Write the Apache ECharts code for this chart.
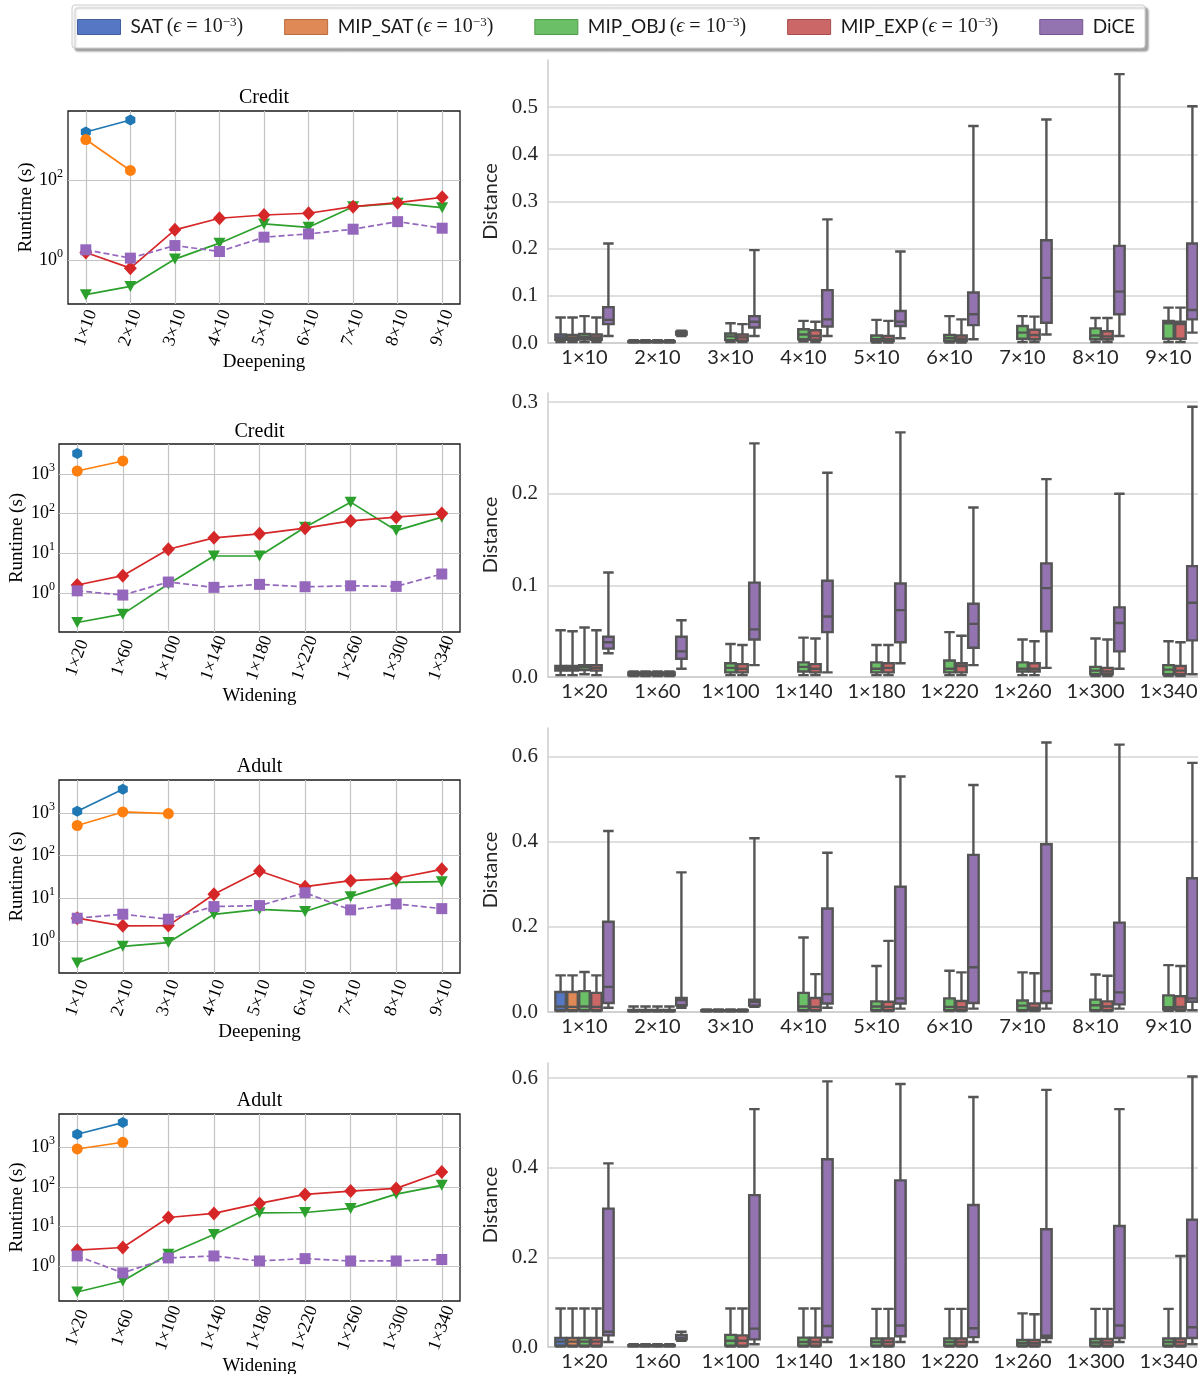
<!DOCTYPE html>
<html>
<head>
<meta charset="utf-8">
<script src="https://cdn.jsdelivr.net/npm/echarts@6/dist/echarts.min.js"></script>
<style>
  html, body { margin: 0; padding: 0; background: #fff; }
  #chart { width: 1198px; height: 1374px; }
</style>
</head>
<body>
<div id="chart"></div>
<script>
// ---- categories ----
const deepLabels = ['1×10', '2×10', '3×10', '4×10', '5×10', '6×10', '7×10', '8×10', '9×10'];
const wideLabels = ['1×20', '1×60', '1×100', '1×140', '1×180', '1×220', '1×260', '1×300', '1×340'];
const methods = ['SAT', 'MIP_SAT', 'MIP_OBJ', 'MIP_EXP', 'DiCE'];

// ---- runtime (s), left column ----
const rtCreditDeepSAT = [1590, 3170, null, null, null, null, null, null, null];
const rtCreditDeepMIPSAT = [1030, 174, null, null, null, null, null, null, null];
const rtCreditDeepMIPOBJ = [0.137, 0.22, 1.06, 2.65, 8.0, 6.6, 21.6, 26.3, 20.4];
const rtCreditDeepMIPEXP = [1.55, 0.63, 5.7, 11.1, 13.4, 14.8, 21.6, 27.2, 37.1];
const rtCreditDeepDiCE = [1.81, 1.12, 2.31, 1.64, 3.74, 4.52, 5.92, 9.14, 6.27];

const rtCreditWideSAT = [3330, null, null, null, null, null, null, null, null];
const rtCreditWideMIPSAT = [1195, 2140, null, null, null, null, null, null, null];
const rtCreditWideMIPOBJ = [0.177, 0.288, 1.66, 8.5, 8.5, 45.5, 195, 37.3, 81.5];
const rtCreditWideMIPEXP = [1.57, 2.70, 12.6, 24.4, 30.8, 42.9, 65.6, 81.5, 100.6];
const rtCreditWideDiCE = [1.12, 0.875, 1.87, 1.37, 1.63, 1.42, 1.50, 1.45, 2.98];

const rtAdultDeepSAT = [1110, 3650, null, null, null, null, null, null, null];
const rtAdultDeepMIPSAT = [514, 1070, 980, null, null, null, null, null, null];
const rtAdultDeepMIPOBJ = [0.30, 0.74, 0.91, 4.2, 5.5, 4.9, 10.9, 23.7, 24.5];
const rtAdultDeepMIPEXP = [3.40, 2.25, 2.28, 12.4, 43.7, 18.7, 25.9, 29.5, 47.9];
const rtAdultDeepDiCE = [3.40, 4.22, 3.22, 6.38, 6.72, 13.5, 5.33, 7.36, 5.71];

const rtAdultWideSAT = [2140, 4200, null, null, null, null, null, null, null];
const rtAdultWideMIPSAT = [908, 1340, null, null, null, null, null, null, null];
const rtAdultWideMIPOBJ = [0.224, 0.426, 2.01, 6.3, 22.3, 22.7, 28.8, 66, 110];
const rtAdultWideMIPEXP = [2.54, 2.97, 17.0, 21.5, 38.5, 64.9, 78.7, 92.1, 238];
const rtAdultWideDiCE = [1.82, 0.68, 1.62, 1.82, 1.36, 1.56, 1.36, 1.36, 1.48];

// ---- distance boxes [min, Q1, median, Q3, max], right column ----
const dCreditDeepSAT = [[0.002, 0.007, 0.012, 0.018, 0.054], [0.001, 0.002, 0.003, 0.004, 0.006], '-', '-', '-', '-', '-', '-', '-'];
const dCreditDeepMIPSAT = [[0.002, 0.007, 0.011, 0.017, 0.054], [0.001, 0.002, 0.003, 0.004, 0.006], '-', '-', '-', '-', '-', '-', '-'];
const dCreditDeepMIPOBJ = [[0.002, 0.008, 0.013, 0.019, 0.057], [0.001, 0.002, 0.003, 0.004, 0.006], [0.002, 0.006, 0.014, 0.020, 0.042], [0.003, 0.008, 0.018, 0.029, 0.047], [0.001, 0.004, 0.008, 0.016, 0.049], [0.001, 0.004, 0.010, 0.017, 0.057], [0.002, 0.009, 0.022, 0.036, 0.057], [0.002, 0.008, 0.016, 0.031, 0.053], [0.002, 0.009, 0.042, 0.047, 0.075]];
const dCreditDeepMIPEXP = [[0.002, 0.007, 0.012, 0.018, 0.054], [0.001, 0.002, 0.003, 0.004, 0.006], [0.002, 0.005, 0.012, 0.018, 0.040], [0.002, 0.007, 0.015, 0.027, 0.045], [0.001, 0.004, 0.008, 0.015, 0.047], [0.001, 0.004, 0.009, 0.016, 0.050], [0.002, 0.008, 0.017, 0.028, 0.056], [0.002, 0.008, 0.014, 0.025, 0.053], [0.002, 0.009, 0.040, 0.045, 0.075]];
const dCreditDeepDiCE = [[0.015, 0.040, 0.049, 0.076, 0.211], [0.015, 0.018, 0.021, 0.024, 0.026], [0.015, 0.033, 0.045, 0.057, 0.197], [0.015, 0.035, 0.050, 0.112, 0.262], [0.010, 0.036, 0.045, 0.068, 0.194], [0.008, 0.038, 0.061, 0.107, 0.460], [0.018, 0.043, 0.138, 0.218, 0.474], [0.015, 0.061, 0.109, 0.206, 0.570], [0.022, 0.050, 0.070, 0.211, 0.502]];

const dCreditWideSAT = [[0.002, 0.007, 0.0095, 0.012, 0.051], [0.001, 0.002, 0.003, 0.005, 0.006], '-', '-', '-', '-', '-', '-', '-'];
const dCreditWideMIPSAT = [[0.002, 0.007, 0.0095, 0.012, 0.050], [0.001, 0.002, 0.003, 0.005, 0.006], '-', '-', '-', '-', '-', '-', '-'];
const dCreditWideMIPOBJ = [[0.003, 0.0075, 0.0105, 0.013, 0.054], [0.001, 0.002, 0.003, 0.005, 0.006], [0.002, 0.005, 0.010, 0.015, 0.036], [0.002, 0.006, 0.011, 0.016, 0.043], [0.002, 0.005, 0.009, 0.016, 0.035], [0.002, 0.005, 0.009, 0.018, 0.049], [0.002, 0.006, 0.009, 0.016, 0.041], [0.001, 0.003, 0.007, 0.011, 0.042], [0.001, 0.003, 0.008, 0.013, 0.039]];
const dCreditWideMIPEXP = [[0.002, 0.007, 0.010, 0.013, 0.051], [0.001, 0.002, 0.003, 0.005, 0.006], [0.002, 0.005, 0.009, 0.014, 0.035], [0.002, 0.005, 0.009, 0.014, 0.042], [0.002, 0.005, 0.010, 0.015, 0.035], [0.002, 0.005, 0.012, 0.015, 0.045], [0.002, 0.006, 0.009, 0.015, 0.039], [0.001, 0.003, 0.006, 0.010, 0.041], [0.001, 0.003, 0.007, 0.012, 0.038]];
const dCreditWideDiCE = [[0.026, 0.031, 0.038, 0.044, 0.114], [0.009, 0.020, 0.028, 0.044, 0.062], [0.013, 0.041, 0.052, 0.103, 0.255], [0.005, 0.049, 0.066, 0.105, 0.223], [0.015, 0.038, 0.073, 0.102, 0.267], [0.013, 0.032, 0.058, 0.080, 0.185], [0.010, 0.050, 0.097, 0.124, 0.216], [0.009, 0.028, 0.059, 0.076, 0.200], [0.003, 0.040, 0.081, 0.121, 0.295]];

const dAdultDeepSAT = [[0.002, 0.004, 0.013, 0.047, 0.086], [0.001, 0.002, 0.003, 0.005, 0.013], [0.001, 0.002, 0.003, 0.004, 0.006], '-', '-', '-', '-', '-', '-'];
const dAdultDeepMIPSAT = [[0.002, 0.004, 0.012, 0.047, 0.086], [0.001, 0.002, 0.003, 0.005, 0.013], [0.001, 0.002, 0.003, 0.004, 0.006], '-', '-', '-', '-', '-', '-'];
const dAdultDeepMIPOBJ = [[0.002, 0.004, 0.013, 0.049, 0.094], [0.001, 0.002, 0.003, 0.005, 0.013], [0.001, 0.002, 0.003, 0.004, 0.006], [0.002, 0.004, 0.013, 0.045, 0.175], [0.002, 0.004, 0.013, 0.025, 0.108], [0.002, 0.004, 0.012, 0.032, 0.097], [0.002, 0.004, 0.015, 0.027, 0.093], [0.002, 0.004, 0.016, 0.029, 0.088], [0.003, 0.006, 0.011, 0.039, 0.110]];
const dAdultDeepMIPEXP = [[0.002, 0.004, 0.012, 0.045, 0.086], [0.001, 0.002, 0.003, 0.005, 0.013], [0.001, 0.002, 0.003, 0.004, 0.006], [0.002, 0.004, 0.012, 0.033, 0.089], [0.002, 0.004, 0.012, 0.024, 0.167], [0.002, 0.004, 0.011, 0.026, 0.093], [0.002, 0.004, 0.010, 0.020, 0.091], [0.002, 0.004, 0.013, 0.025, 0.085], [0.003, 0.006, 0.012, 0.037, 0.108]];
const dAdultDeepDiCE = [[0.010, 0.021, 0.059, 0.212, 0.425], [0.010, 0.016, 0.028, 0.033, 0.328], [0.012, 0.015, 0.024, 0.029, 0.408], [0.010, 0.020, 0.042, 0.243, 0.374], [0.008, 0.020, 0.032, 0.294, 0.553], [0.008, 0.021, 0.105, 0.369, 0.533], [0.008, 0.021, 0.049, 0.394, 0.633], [0.008, 0.018, 0.046, 0.210, 0.628], [0.004, 0.024, 0.032, 0.314, 0.585]];

const dAdultWideSAT = [[0.001, 0.003, 0.012, 0.020, 0.086], [0.001, 0.002, 0.003, 0.004, 0.006], '-', '-', '-', '-', '-', '-', '-'];
const dAdultWideMIPSAT = [[0.001, 0.003, 0.012, 0.020, 0.086], [0.001, 0.002, 0.003, 0.004, 0.006], '-', '-', '-', '-', '-', '-', '-'];
const dAdultWideMIPOBJ = [[0.001, 0.003, 0.012, 0.020, 0.086], [0.001, 0.002, 0.003, 0.004, 0.006], [0.001, 0.003, 0.014, 0.027, 0.086], [0.001, 0.003, 0.011, 0.021, 0.086], [0.001, 0.003, 0.011, 0.019, 0.085], [0.001, 0.003, 0.011, 0.019, 0.085], [0.001, 0.003, 0.009, 0.016, 0.075], [0.001, 0.003, 0.010, 0.018, 0.085], [0.001, 0.003, 0.011, 0.019, 0.085]];
const dAdultWideMIPEXP = [[0.001, 0.003, 0.012, 0.020, 0.086], [0.001, 0.002, 0.003, 0.004, 0.006], [0.001, 0.003, 0.014, 0.026, 0.086], [0.001, 0.003, 0.011, 0.021, 0.086], [0.001, 0.003, 0.011, 0.019, 0.085], [0.001, 0.003, 0.011, 0.019, 0.085], [0.001, 0.003, 0.009, 0.016, 0.073], [0.001, 0.003, 0.010, 0.018, 0.085], [0.001, 0.003, 0.011, 0.019, 0.203]];
const dAdultWideDiCE = [[0.011, 0.026, 0.034, 0.309, 0.410], [0.014, 0.017, 0.021, 0.027, 0.034], [0.006, 0.017, 0.041, 0.339, 0.531], [0.011, 0.021, 0.047, 0.419, 0.593], [0.011, 0.024, 0.048, 0.372, 0.587], [0.011, 0.022, 0.042, 0.317, 0.558], [0.011, 0.020, 0.025, 0.263, 0.574], [0.011, 0.020, 0.048, 0.270, 0.531], [0.006, 0.020, 0.044, 0.284, 0.604]];

// ---- tick labels ----
const logTicksSparse = [1, 100];
const logTicks = [1, 10, 100, 1000];
const distTicksCreditDeep = [0, 0.1, 0.2, 0.3, 0.4, 0.5];
const distTicksCreditWide = [0, 0.1, 0.2, 0.3];
const distTicksAdult = [0, 0.2, 0.4, 0.6];

// ---- styles ----
const SERIF = '"Liberation Serif", "DejaVu Serif", serif';
const SANS = 'Lato, "Open Sans", sans-serif';
const lineColors = ['#1f77b4', '#ff7f0e', '#2ca02c', '#d62728', '#9467bd'];
const boxColors = ['#5577c4', '#df8a56', '#6bbf66', '#cc6767', '#9373b0'];
const legendBorders = ['#3f5f9e', '#b86b3c', '#4f9a4b', '#a84c4c', '#745790'];
const hexagon = 'path://M0,-1 L0.866,-0.5 L0.866,0.5 L0,1 L-0.866,0.5 L-0.866,-0.5 Z';
const markers = [
  { symbol: hexagon, symbolSize: [10, 11], symbolRotate: 0 },
  { symbol: 'circle', symbolSize: 11, symbolRotate: 0 },
  { symbol: 'triangle', symbolSize: [12, 11], symbolRotate: 180 },
  { symbol: 'diamond', symbolSize: [13, 14], symbolRotate: 0 },
  { symbol: 'rect', symbolSize: 11, symbolRotate: 0 }
];

const leftPanels = [
  { grid: { left: 68, top: 111, width: 392, height: 193 }, min: 0.08, max: 5320, ticks: logTicksSparse,
    labels: deepLabels, title: 'Credit', titleTop: 88, xName: 'Deepening', xNameGap: 46, labelMargin: 24,
    series: [rtCreditDeepSAT, rtCreditDeepMIPSAT, rtCreditDeepMIPOBJ, rtCreditDeepMIPEXP, rtCreditDeepDiCE] },
  { grid: { left: 59, top: 444, width: 401, height: 188 }, min: 0.102, max: 5750, ticks: logTicks,
    labels: wideLabels, title: 'Credit', titleTop: 422, xName: 'Widening', xNameGap: 51, labelMargin: 26,
    series: [rtCreditWideSAT, rtCreditWideMIPSAT, rtCreditWideMIPOBJ, rtCreditWideMIPEXP, rtCreditWideDiCE] },
  { grid: { left: 59, top: 780, width: 401, height: 193 }, min: 0.175, max: 6030, ticks: logTicks,
    labels: deepLabels, title: 'Adult', titleTop: 757, xName: 'Deepening', xNameGap: 45, labelMargin: 25,
    series: [rtAdultDeepSAT, rtAdultDeepMIPSAT, rtAdultDeepMIPOBJ, rtAdultDeepMIPEXP, rtAdultDeepDiCE] },
  { grid: { left: 59, top: 1114, width: 401, height: 187 }, min: 0.133, max: 6920, ticks: logTicks,
    labels: wideLabels, title: 'Adult', titleTop: 1091, xName: 'Widening', xNameGap: 51, labelMargin: 27,
    series: [rtAdultWideSAT, rtAdultWideMIPSAT, rtAdultWideMIPOBJ, rtAdultWideMIPEXP, rtAdultWideDiCE] }
];

const rightPanels = [
  { grid: { left: 548, top: 60, right: -7, height: 283 }, max: 0.6, ticks: distTicksCreditDeep, labels: deepLabels,
    series: [dCreditDeepSAT, dCreditDeepMIPSAT, dCreditDeepMIPOBJ, dCreditDeepMIPEXP, dCreditDeepDiCE] },
  { grid: { left: 548, top: 393, right: -7, height: 284 }, max: 0.31, ticks: distTicksCreditWide, labels: wideLabels,
    series: [dCreditWideSAT, dCreditWideMIPSAT, dCreditWideMIPOBJ, dCreditWideMIPEXP, dCreditWideDiCE] },
  { grid: { left: 548, top: 728, right: -7, height: 284 }, max: 0.667, ticks: distTicksAdult, labels: deepLabels,
    series: [dAdultDeepSAT, dAdultDeepMIPSAT, dAdultDeepMIPOBJ, dAdultDeepMIPEXP, dAdultDeepDiCE] },
  { grid: { left: 548, top: 1063, right: -7, height: 284 }, max: 0.634, ticks: distTicksAdult, labels: wideLabels,
    series: [dAdultWideSAT, dAdultWideMIPSAT, dAdultWideMIPOBJ, dAdultWideMIPEXP, dAdultWideDiCE] }
];

const grids = [];
const xAxes = [];
const yAxes = [];
const titles = [];
const series = [];

leftPanels.forEach((p, k) => {
  grids.push(Object.assign({ show: true, borderColor: '#1a1a1a', borderWidth: 1.3, backgroundColor: '#fff', outerBoundsMode: 'none' }, p.grid));
  titles.push({
    text: p.title, left: p.grid.left + p.grid.width / 2, top: p.titleTop, textAlign: 'center', padding: 0,
    textStyle: { fontFamily: SERIF, fontSize: 20, fontWeight: 'normal', color: '#000' }
  });
  const tickIdx = p.labels.map((_, i) => i);
  xAxes.push({
    type: 'value', gridIndex: k, min: -0.4, max: 8.4,
    name: p.xName, nameLocation: 'middle', nameGap: p.xNameGap,
    nameTextStyle: { fontFamily: SERIF, fontSize: 19, color: '#000' },
    axisLine: { show: false },
    axisTick: { show: false, customValues: tickIdx },
    axisLabel: {
      customValues: tickIdx, rotate: 70, align: 'center', verticalAlign: 'middle', margin: p.labelMargin,
      fontFamily: SERIF, fontSize: 18, color: '#000',
      formatter: v => p.labels[Math.round(v)]
    },
    splitLine: { show: true, lineStyle: { color: '#c4c4c4', width: 1.2 } }
  });
  yAxes.push({
    type: 'log', gridIndex: k, min: p.min, max: p.max,
    name: 'Runtime (s)', nameLocation: 'middle', nameGap: k === 0 ? 31 : 32,
    nameTextStyle: { fontFamily: SERIF, fontSize: 19, color: '#000' },
    axisLine: { show: false },
    axisTick: { show: false, customValues: p.ticks },
    axisLabel: {
      customValues: p.ticks, margin: k === 0 ? 5 : 4,
      formatter: v => '{b|10}{s|' + Math.round(Math.log10(v)) + '}',
      rich: {
        b: { fontFamily: SERIF, fontSize: 18, color: '#000', lineHeight: 24 },
        s: { fontFamily: SERIF, fontSize: 12, color: '#000', lineHeight: 13, verticalAlign: 'top' }
      }
    },
    splitLine: { show: true, lineStyle: { color: '#c4c4c4', width: 1.2 } }
  });
  p.series.forEach((arr, m) => {
    series.push({
      type: 'line', name: methods[m] + ' runtime', xAxisIndex: k, yAxisIndex: k,
      data: arr.map((v, i) => [i, v == null ? '-' : v]),
      symbol: markers[m].symbol, symbolSize: markers[m].symbolSize, symbolRotate: markers[m].symbolRotate,
      showSymbol: true, connectNulls: false,
      itemStyle: { color: lineColors[m] },
      lineStyle: { color: lineColors[m], width: 1.7, type: m === 4 ? [6, 3] : 'solid' },
      emphasis: { disabled: true },
      z: 3 + m
    });
  });
});

rightPanels.forEach((p, j) => {
  const k = j + 4;
  grids.push(Object.assign({ show: false, outerBoundsMode: 'none' }, p.grid));
  xAxes.push({
    type: 'category', gridIndex: k, data: p.labels,
    axisLine: { show: true, lineStyle: { color: '#cccccc', width: 1.5 } },
    axisTick: { show: false },
    axisLabel: { fontFamily: SANS, fontSize: 20, color: '#262626', margin: 5, interval: 0 },
    splitLine: { show: false }
  });
  yAxes.push({
    type: 'value', gridIndex: k, min: 0, max: p.max,
    name: 'Distance', nameLocation: 'middle', nameGap: 42,
    nameTextStyle: { fontFamily: SANS, fontSize: 20, color: '#262626' },
    axisLine: { show: true, lineStyle: { color: '#cccccc', width: 1.5 } },
    axisTick: { show: false, customValues: p.ticks },
    axisLabel: {
      customValues: p.ticks, margin: 10, fontFamily: SERIF, fontSize: 21, color: '#262626',
      formatter: v => v.toFixed(1)
    },
    splitLine: { show: true, lineStyle: { color: '#d4d4d4', width: 1.5 } }
  });
  p.series.forEach((arr, m) => {
    series.push({
      type: 'boxplot', name: methods[m], xAxisIndex: k, yAxisIndex: k,
      data: arr, boxWidth: [10.5, 10.5],
      itemStyle: { color: boxColors[m], borderColor: '#555555', borderWidth: 2.4 },
      emphasis: { disabled: true },
      z: 3
    });
  });
});

const legendRich = {
  t: { fontFamily: SANS, fontSize: 19, color: '#1a1a1a', padding: [0, 0, 0, 5], lineHeight: 22 },
  m: { fontFamily: SERIF, fontSize: 20, color: '#1a1a1a', lineHeight: 22 },
  e: { fontFamily: SERIF, fontSize: 20, fontStyle: 'italic', color: '#1a1a1a', lineHeight: 22 },
  p: { fontFamily: SERIF, fontSize: 13, color: '#1a1a1a', lineHeight: 12, verticalAlign: 'top' }
};

const option = {
  animation: false,
  backgroundColor: '#fff',
  title: titles,
  legend: {
    left: 72, top: 5, orient: 'horizontal',
    itemWidth: 43, itemHeight: 15, itemGap: 41, icon: 'rect',
    padding: [11, 10, 11, 5],
    backgroundColor: '#fff', borderColor: '#cccccc', borderWidth: 1, borderRadius: 3,
    shadowColor: 'rgba(0,0,0,0.35)', shadowBlur: 2, shadowOffsetX: 3, shadowOffsetY: 3,
    selectedMode: false,
    data: methods.map((n, i) => ({
      name: n, itemStyle: { color: boxColors[i], borderColor: legendBorders[i], borderWidth: 1 }
    })),
    formatter: n => n === 'DiCE' ? '{t|DiCE}' : '{t|' + n + '} {m|(}{e|ϵ}{m| = 10}{p|−3}{m|)}',
    textStyle: { rich: legendRich }
  },
  grid: grids,
  xAxis: xAxes,
  yAxis: yAxes,
  series: series
};

const chart = echarts.init(document.getElementById('chart'), null, { renderer: 'canvas' });
chart.setOption(option);
window.addEventListener('resize', () => chart.resize());
</script>
</body>
</html>
